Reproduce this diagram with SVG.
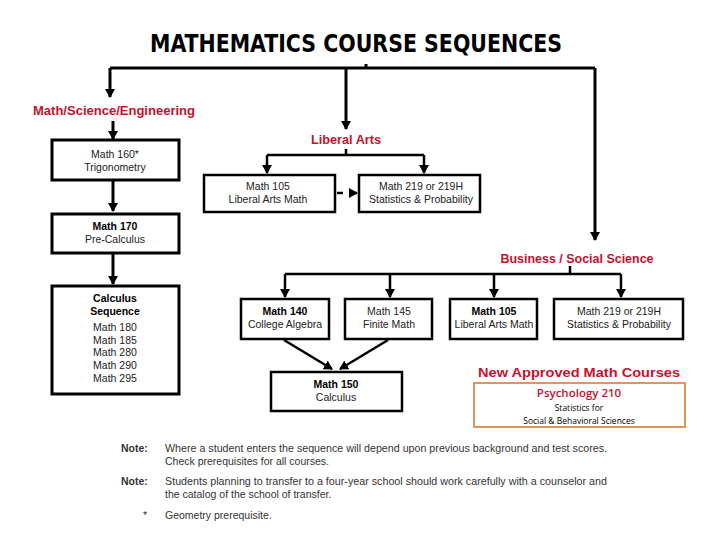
<svg xmlns="http://www.w3.org/2000/svg" width="720" height="540" viewBox="0 0 720 540">
<defs>
<marker id="ah" markerWidth="10" markerHeight="10" refX="8" refY="5" orient="auto" markerUnits="userSpaceOnUse">
<path d="M0,0 L9,5 L0,10 Z" fill="#000"/>
</marker>
<style>
.ln{stroke:#000;stroke-width:3;fill:none}
.box{fill:#fff;stroke:#000;stroke-width:2.5}
.t{font-family:"Liberation Sans",Arial,sans-serif;font-size:10.5px;fill:#222;text-anchor:middle}
.b{font-weight:bold;fill:#000}
.red{font-family:"Liberation Sans",Arial,sans-serif;font-weight:bold;fill:#c8102e;text-anchor:middle}
.note{font-family:"Liberation Sans",Arial,sans-serif;font-size:10.5px;fill:#333}
</style>
</defs>
<rect width="720" height="540" fill="#fff"/>
<text x="356" y="52" font-family="DejaVu Sans Condensed,'DejaVu Sans',sans-serif" font-stretch="condensed" font-weight="bold" font-size="25" text-anchor="middle" textLength="412" lengthAdjust="spacingAndGlyphs" fill="#000">MATHEMATICS COURSE SEQUENCES</text>

<g id="connectors">
<path class="ln" d="M366,64 V68"/>
<path class="ln" d="M110,68 H595"/>
<path class="ln" d="M110,68 V97" marker-end="url(#ah)"/>
<path class="ln" d="M346,68 V129" marker-end="url(#ah)"/>
<path class="ln" d="M595,68 V240" marker-end="url(#ah)"/>
<path class="ln" d="M113,121 V139" marker-end="url(#ah)"/>
<path class="ln" d="M113,180 V211" marker-end="url(#ah)"/>
<path class="ln" d="M113,253 V284" marker-end="url(#ah)"/>
<path class="ln" d="M346,149 V155 M267,155 H424" style="stroke-width:2.5"/>
<path class="ln" d="M267,155 V173" marker-end="url(#ah)" style="stroke-width:2.5"/>
<path class="ln" d="M424,155 V173" marker-end="url(#ah)" style="stroke-width:2.5"/>
<path class="ln" d="M337,193 H343" style="stroke-width:2.5"/>
<path class="ln" d="M349,193 H357" marker-end="url(#ah)" style="stroke-width:2.5"/>
<path class="ln" d="M570,266 V274 M285,274 H621" style="stroke-width:2.5"/>
<path class="ln" d="M285,274 V297" marker-end="url(#ah)" style="stroke-width:2.5"/>
<path class="ln" d="M390,274 V297" marker-end="url(#ah)" style="stroke-width:2.5"/>
<path class="ln" d="M494,274 V297" marker-end="url(#ah)" style="stroke-width:2.5"/>
<path class="ln" d="M621,274 V297" marker-end="url(#ah)" style="stroke-width:2.5"/>
<path class="ln" d="M284,340 L332,369" marker-end="url(#ah)" style="stroke-width:2.5"/>
<path class="ln" d="M388,340 L340,369" marker-end="url(#ah)" style="stroke-width:2.5"/>
</g>

<text class="red" x="114" y="115" font-size="12" textLength="162" lengthAdjust="spacingAndGlyphs">Math/Science/Engineering</text>
<text class="red" x="346" y="144" font-size="12" textLength="70" lengthAdjust="spacingAndGlyphs">Liberal Arts</text>
<text class="red" x="577" y="263" font-size="12" textLength="153" lengthAdjust="spacingAndGlyphs">Business / Social Science</text>

<g id="math160">
<rect class="box" x="52" y="140" width="127" height="40" style="stroke-width:3"/>
<text class="t" x="115" y="158">Math 160*</text>
<text class="t" x="115" y="171">Trigonometry</text>
</g>
<g id="math170">
<rect class="box" x="52" y="214" width="127" height="39" style="stroke-width:3"/>
<text class="t b" x="115" y="230">Math 170</text>
<text class="t" x="115" y="243">Pre-Calculus</text>
</g>
<g id="calculus">
<rect class="box" x="52" y="286" width="127" height="108" style="stroke-width:3"/>
<text class="t b" x="115" y="302">Calculus</text>
<text class="t b" x="115" y="315">Sequence</text>
<text class="t" x="115" y="331">Math 180</text>
<text class="t" x="115" y="344">Math 185</text>
<text class="t" x="115" y="356">Math 280</text>
<text class="t" x="115" y="369">Math 290</text>
<text class="t" x="115" y="382">Math 295</text>
</g>
<g id="la105">
<rect class="box" x="204" y="175" width="131" height="37"/>
<text class="t" x="268" y="190">Math 105</text>
<text class="t" x="268" y="203">Liberal Arts Math</text>
</g>
<g id="la219">
<rect class="box" x="359" y="175" width="121" height="37"/>
<text class="t" x="421" y="190">Math 219 or 219H</text>
<text class="t" x="421" y="203">Statistics &amp; Probability</text>
</g>
<g id="math140">
<rect class="box" x="241" y="299" width="88" height="40"/>
<text class="t b" x="285" y="315">Math 140</text>
<text class="t" x="285" y="328">College Algebra</text>
</g>
<g id="math145">
<rect class="box" x="345" y="299" width="87" height="40"/>
<text class="t" x="389" y="315">Math 145</text>
<text class="t" x="389" y="328">Finite Math</text>
</g>
<g id="bs105">
<rect class="box" x="450" y="299" width="87" height="40"/>
<text class="t b" x="494" y="315">Math 105</text>
<text class="t" x="494" y="328">Liberal Arts Math</text>
</g>
<g id="bs219">
<rect class="box" x="554" y="299" width="129" height="40"/>
<text class="t" x="619" y="315">Math 219 or 219H</text>
<text class="t" x="619" y="328">Statistics &amp; Probability</text>
</g>
<g id="math150">
<rect class="box" x="271" y="372" width="131" height="39"/>
<text class="t b" x="336" y="388">Math 150</text>
<text class="t" x="336" y="401">Calculus</text>
</g>
<g id="newcourses">
<text class="red" x="579" y="377" font-size="13" font-family="'Open Sans',sans-serif" textLength="202" lengthAdjust="spacingAndGlyphs">New Approved Math Courses</text>
<rect x="474" y="383" width="211" height="44" fill="#fff" stroke="#e0955a" stroke-width="2"/>
<text x="579" y="397" font-size="11.5" font-family="'Open Sans',sans-serif" font-weight="600" text-anchor="middle" fill="#c8102e">Psychology 210</text>
<text x="579" y="411" font-family="'Open Sans',sans-serif" font-size="8.5" text-anchor="middle" fill="#000">Statistics for</text>
<text x="579" y="424" font-family="'Open Sans',sans-serif" font-size="8.5" text-anchor="middle" fill="#000">Social &amp; Behavioral Sciences</text>
</g>

<g id="notes">
<text class="note" x="121" y="452" font-weight="bold" fill="#000">Note:</text>
<text class="note" x="165" y="452" textLength="442" lengthAdjust="spacingAndGlyphs">Where a student enters the sequence will depend upon previous background and test scores.</text>
<text class="note" x="165" y="465">Check prerequisites for all courses.</text>
<text class="note" x="121" y="485" font-weight="bold" fill="#000">Note:</text>
<text class="note" x="165" y="485" textLength="442" lengthAdjust="spacingAndGlyphs">Students planning to transfer to a four-year school should work carefully with a counselor and</text>
<text class="note" x="165" y="498">the catalog of the school of transfer.</text>
<text class="note" x="143" y="519">*</text>
<text class="note" x="165" y="519">Geometry prerequisite.</text>
</g>
</svg>
